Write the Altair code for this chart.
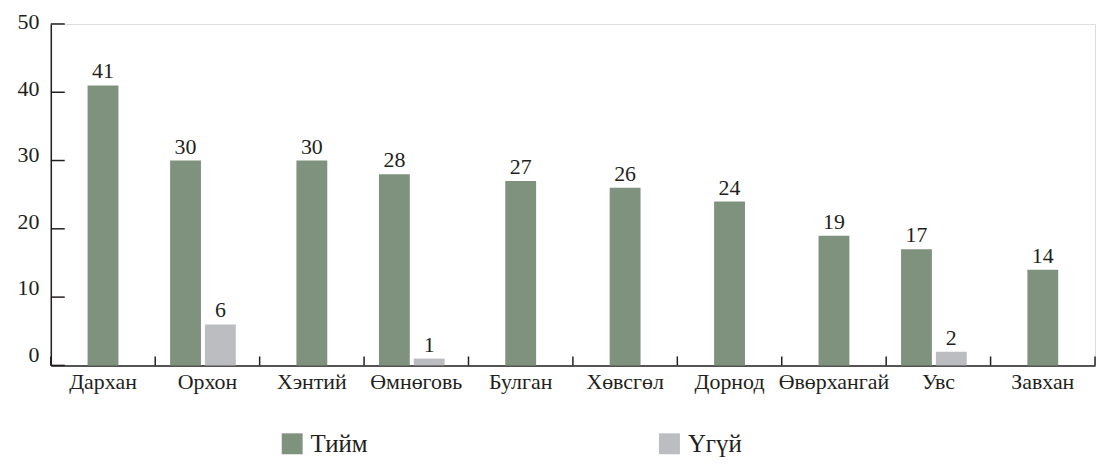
import altair as alt
import pandas as pd

regions = ["Дархан", "Орхон", "Хэнтий", "Өмнөговь", "Булган", "Хөвсгөл",
           "Дорнод", "Өвөрхангай", "Увс", "Завхан"]
yes_values = [41, 30, 30, 28, 27, 26, 24, 19, 17, 14]
no_values = [0, 6, 0, 1, 0, 0, 0, 0, 2, 0]
series = ["Тийм", "Үгүй"]
y_ticks = [0, 10, 20, 30, 40, 50]

colors = ["#7f927d", "#bcbdc1"]
ink = "#231f20"
font = "Liberation Serif"

rows = []
for r, y, n in zip(regions, yes_values, no_values):
    if n > 0:
        rows.append({"region": r, "answer": series[0], "value": y, "slot": -1})
        rows.append({"region": r, "answer": series[1], "value": n, "slot": 1})
    else:
        rows.append({"region": r, "answer": series[0], "value": y, "slot": 0})
df = pd.DataFrame(rows)
ticks_df = pd.DataFrame({"t": y_ticks})
reg_df = pd.DataFrame({"region": regions})
last_df = pd.DataFrame({"region": regions[-1:]})

W, H = 1049, 343

xscale = alt.Scale(domain=regions, paddingInner=0, paddingOuter=0)
yscale = alt.Scale(domain=[0, 50])
# pixel shift of a bar inside its category: left of a pair, centred single, right of a pair
shift = alt.expr("datum.slot < 0 ? -22 : (datum.slot > 0 ? 13 : 0)")

x_enc = alt.X("region:N", sort=regions, scale=xscale,
              axis=alt.Axis(title=None, ticks=False, labelAngle=0,
                            labelFont=font, labelFontSize=22, labelColor=ink,
                            labelPadding=6, domainColor=ink, domainWidth=1.5))
y_enc = alt.Y("value:Q", scale=yscale, stack=None,
              axis=alt.Axis(title=None, values=y_ticks, ticks=False, grid=False,
                            labelFont=font, labelFontSize=22, labelColor=ink,
                            labelPadding=12,
                            labelOffset=alt.expr("-11 + 0.17 * datum.value"),
                            domainColor=ink, domainWidth=1.5))

bars = alt.Chart(df).mark_bar(size=31, xOffset=shift).encode(
    x=x_enc,
    y=y_enc,
    color=alt.Color("answer:N", scale=alt.Scale(domain=series, range=colors),
                    legend=alt.Legend(title=None, orient="none", direction="horizontal",
                                      legendX=230, legendY=409,
                                      symbolType="square", symbolSize=441,
                                      symbolStrokeWidth=0, symbolOpacity=1,
                                      labelFont=font, labelFontSize=25,
                                      labelColor=ink, labelOffset=6,
                                      columnPadding=290)),
)

labels = alt.Chart(df).mark_text(font=font, fontSize=22, color=ink,
                                 baseline="alphabetic", dy=-7, dx=shift).encode(
    x=alt.X("region:N", sort=regions, scale=xscale),
    y=alt.Y("value:Q", scale=yscale, stack=None),
    text="value:Q",
)

ytick_rules = alt.Chart(ticks_df).mark_rule(color=ink, strokeWidth=1.5).encode(
    y=alt.Y("t:Q", scale=yscale),
    x=alt.value(0), x2=alt.value(14),
)

xtick_rules = alt.Chart(reg_df).mark_rule(color=ink, strokeWidth=1.5).encode(
    x=alt.X("region:N", sort=regions, scale=xscale, bandPosition=0),
    y=alt.value(H - 9), y2=alt.value(H),
)
xtick_last = alt.Chart(last_df).mark_rule(color=ink, strokeWidth=1.5).encode(
    x=alt.X("region:N", sort=regions, scale=xscale, bandPosition=1),
    y=alt.value(H - 9), y2=alt.value(H),
)

chart = alt.layer(bars, labels, ytick_rules, xtick_rules, xtick_last).properties(
    width=W, height=H,
    autosize=alt.AutoSizeParams(type="none"),
    padding={"left": 43, "top": 15, "right": 2, "bottom": 95},
).configure_view(stroke=None).configure(background="white", font=font)

chart.save("out.html", embed_options={"renderer": "svg", "actions": False})
